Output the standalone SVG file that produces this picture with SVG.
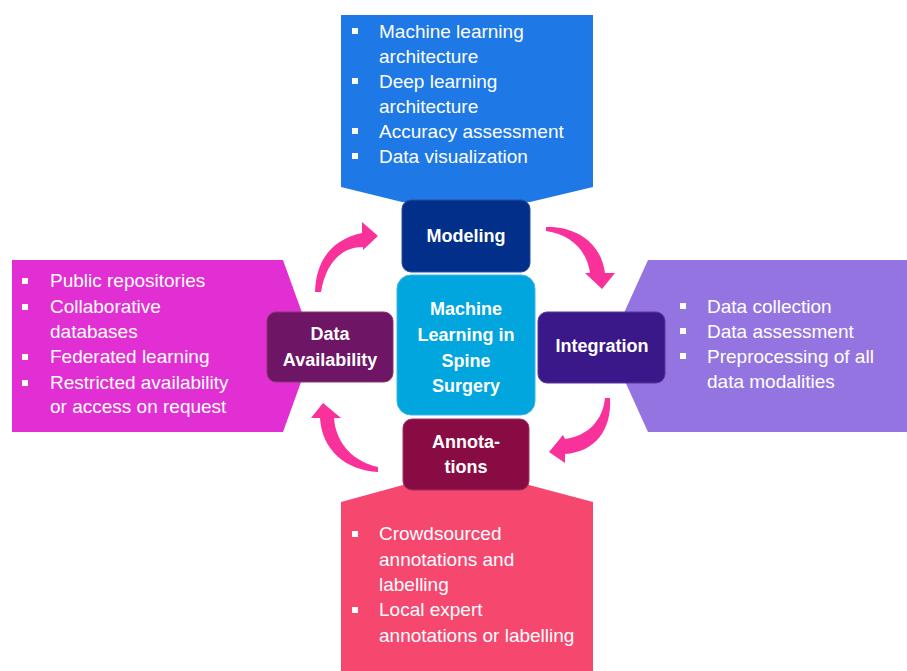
<svg xmlns="http://www.w3.org/2000/svg" width="907" height="671" viewBox="0 0 907 671">
<style>
.item{font-family:"Liberation Sans",Arial,sans-serif;font-size:19px;fill:#fff}
.lbl{font-family:"Liberation Sans",Arial,sans-serif;font-size:18px;font-weight:bold;fill:#fff;text-anchor:middle}
.bul{fill:#fff}
.arr{fill:#F9319B}
</style>
<rect width="907" height="671" fill="#fff"/>
<g id="modeling-callout">
<path d="M341,15 H593 V187 L530,202 L402,202 L341,187 Z" fill="#1E78E5"/>
<rect class="bul" x="352" y="28" width="6" height="6"/><text class="item" x="379" y="38">Machine learning</text>
<text class="item" x="379" y="63">architecture</text>
<rect class="bul" x="352" y="78" width="6" height="6"/><text class="item" x="379" y="88">Deep learning</text>
<text class="item" x="379" y="113">architecture</text>
<rect class="bul" x="352" y="128" width="6" height="6"/><text class="item" x="379" y="138">Accuracy assessment</text>
<rect class="bul" x="352" y="153" width="6" height="6"/><text class="item" x="379" y="163">Data visualization</text>
</g>
<g id="availability-callout">
<path d="M12,260 H283 L314,346 L283,432 H12 Z" fill="#E22FD4"/>
<rect class="bul" x="22" y="278" width="6" height="6"/><text class="item" x="50" y="287">Public repositories</text>
<rect class="bul" x="22" y="304" width="6" height="6"/><text class="item" x="50" y="313">Collaborative</text>
<text class="item" x="50" y="338">databases</text>
<rect class="bul" x="22" y="354" width="6" height="6"/><text class="item" x="50" y="363">Federated learning</text>
<rect class="bul" x="22" y="380" width="6" height="6"/><text class="item" x="50" y="389">Restricted availability</text>
<text class="item" x="50" y="413">or access on request</text>
</g>
<g id="integration-callout">
<path d="M907,260 H648 L609,346 L648,432 H907 Z" fill="#9474E0"/>
<rect class="bul" x="680" y="303" width="6" height="6"/><text class="item" x="707" y="313">Data collection</text>
<rect class="bul" x="680" y="328" width="6" height="6"/><text class="item" x="707" y="338">Data assessment</text>
<rect class="bul" x="680" y="353" width="6" height="6"/><text class="item" x="707" y="363">Preprocessing of all</text>
<text class="item" x="707" y="388">data modalities</text>
</g>
<g id="annotations-callout">
<path d="M341,502 L403,485 L529,485 L593,502 V671 H341 Z" fill="#F6476F"/>
<rect class="bul" x="352" y="531" width="6" height="6"/><text class="item" x="379" y="540">Crowdsourced</text>
<text class="item" x="379" y="566">annotations and</text>
<text class="item" x="379" y="591">labelling</text>
<rect class="bul" x="352" y="607" width="6" height="6"/><text class="item" x="379" y="616">Local expert</text>
<text class="item" x="379" y="642">annotations or labelling</text>
</g>
<g id="modeling">
<rect x="402" y="200" width="128" height="72" rx="9" fill="#012F8A" stroke="#2A4E9E" stroke-width="1"/>
<text class="lbl" x="466" y="242">Modeling</text>
</g>
<g id="center">
<rect x="397" y="275" width="138" height="140" rx="14" fill="#00A6DD" stroke="#3BB8E4" stroke-width="1"/>
<text class="lbl" x="466" y="315">Machine</text>
<text class="lbl" x="466" y="341">Learning in</text>
<text class="lbl" x="466" y="367">Spine</text>
<text class="lbl" x="466" y="392">Surgery</text>
</g>
<g id="data-availability">
<rect x="267" y="312" width="126" height="70" rx="9" fill="#6E1565" stroke="#86386F" stroke-width="1"/>
<text class="lbl" x="330" y="340">Data</text>
<text class="lbl" x="330" y="366">Availability</text>
</g>
<g id="integration">
<rect x="538" y="312" width="127" height="71" rx="9" fill="#3A1889" stroke="#56399A" stroke-width="1"/>
<text class="lbl" x="602" y="352">Integration</text>
</g>
<g id="annotations">
<rect x="403" y="419" width="126" height="71" rx="9" fill="#890B44" stroke="#9E335E" stroke-width="1"/>
<text class="lbl" x="466" y="448">Annota-</text>
<text class="lbl" x="466" y="473">tions</text>
</g>
<g id="connectors">
<path class="arr" d="M315,292 C316,262 330,240 362,233 L362,222 L378,236 L363,250 L363,247 C342,247 326,262 321,292 Z"/>
<path class="arr" d="M546,227 C575,226 601,242 605,273 L615,273 L602,289 L585,273 L590,273 C587,250 570,234 546,231 Z"/>
<path class="arr" d="M610,398 C612,430 595,452 565,454 L565,463 L549,452 L563,435 L565,439 C588,436 603,420 605,398 Z"/>
<path class="arr" d="M378,472 C345,470 322,450 320,418 L311,418 L323,403 L341,418 L334,418 C336,445 355,462 378,467 Z"/>
</g>
</svg>
